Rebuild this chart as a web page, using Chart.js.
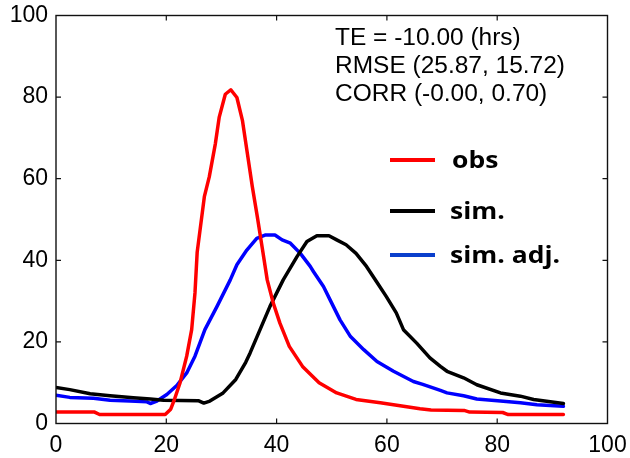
<!DOCTYPE html>
<html>
<head>
<meta charset="utf-8">
<script src="https://cdn.jsdelivr.net/npm/chart.js@4/dist/chart.umd.min.js"></script>
<style>
html,body{margin:0;padding:0;background:#fff;}
canvas{display:block;}
</style>
</head>
<body>
<canvas id="c" width="630" height="458"></canvas>
<script>
// ---- data ----
const obsX = [0,7,7.9,19.8,20.8,21.5,22.5,23.7,24.6,25.2,25.6,26.9,27.8,28.9,29.6,30.7,31.7,32.8,33.8,34.7,35.6,36.5,37.4,38.3,39.4,40.6,42.3,44.7,47.7,50.9,54.4,58.8,63.6,66,68,74,75,81,82,92];
const obsY = [2.8,2.8,2.2,2.2,3.5,6,10,16.5,23,32,42,55.6,60.5,68.6,75.1,80.7,81.8,79.9,74.3,66.2,58,50.7,43,35.2,29.5,24.6,18.9,14,10,7.5,5.9,5.1,4.1,3.6,3.3,3.2,2.8,2.7,2.2,2.2];

const simX = [0,2.5,6.2,9.8,14,17.1,19.5,25.8,26.8,27.9,30.3,32.6,34.4,35.2,37,38.8,41.2,43.7,45.5,47.3,49.5,50.9,52.6,54.4,56.3,58.1,59.9,61.7,63,65.4,67.8,69.7,70.9,73.9,76.3,80.6,84.2,86.6,90.3,92];
const simY = [8.8,8.3,7.3,6.8,6.3,6.0,5.7,5.6,5.0,5.5,7.5,10.8,15.0,17.3,23,28.7,35.2,40.9,44.6,46,46,45,43.8,41.7,38.5,34.8,31.1,27.1,23,19.7,16.1,14,12.8,11.2,9.5,7.5,6.7,5.9,5.2,4.9];

const adjX = [0,2.5,6.8,9.8,13.4,16.5,17.1,18.3,20.1,21.9,23.7,25.2,27,29.2,31.6,32.8,34.6,36.4,37.9,39.7,41,42.5,44.3,46.1,46.7,48.5,49.7,51.5,53.4,55.8,58.2,61.2,64.8,66.5,69.7,70.9,73.9,76.3,80.6,84.2,87.2,92];
const adjY = [6.9,6.4,6.2,5.7,5.5,5.3,4.9,5.5,7.1,9.3,12.4,16.5,23,28.7,35.2,38.9,42.5,45.4,46.2,46.2,45,44.2,41.7,38.5,37.2,33.6,30.3,25.4,21.3,18.1,15.2,12.8,10.3,9.6,8.1,7.5,6.8,6.0,5.5,5.1,4.6,4.2];

const seriesNames = ["obs", "sim.", "sim. adj."];
const statLines = ["TE = -10.00 (hrs)", "RMSE (25.87, 15.72)", "CORR (-0.00, 0.70)"];
const tickValues = [0, 20, 40, 60, 80, 100];

function pts(xs, ys){ return xs.map((x,i)=>({x:x, y:ys[i]})); }

const colors = ["#ff0000", "#000000", "#0000ff"];
const legendColors = ["#ff0000", "#000000", "#0a3fcc"];

const overlay = {
  id: 'overlay',
  afterDraw(chart){
    const ctx = chart.ctx;
    const a = chart.chartArea;
    const xs = chart.scales.x, ys = chart.scales.y;
    ctx.save();
    // frame
    ctx.strokeStyle = '#111';
    ctx.lineWidth = 1.4;
    ctx.strokeRect(a.left, a.top, a.right - a.left, a.bottom - a.top);
    // inward ticks
    ctx.lineWidth = 1.2;
    ctx.beginPath();
    tickValues.forEach(v=>{
      if (v===0 || v===100) return;
      const px = xs.getPixelForValue(v);
      ctx.moveTo(px, a.bottom); ctx.lineTo(px, a.bottom-5);
      ctx.moveTo(px, a.top); ctx.lineTo(px, a.top+5);
      const py = ys.getPixelForValue(v);
      ctx.moveTo(a.left, py); ctx.lineTo(a.left+5, py);
      ctx.moveTo(a.right, py); ctx.lineTo(a.right-5, py);
    });
    ctx.stroke();
    // stats text
    ctx.fillStyle = '#000';
    ctx.font = '23px "Liberation Sans", Arial, sans-serif';
    ctx.textBaseline = 'alphabetic';
    ctx.textAlign = 'left';
    const wR = ctx.measureText(statLines[1]).width;
    const tsx = 230 / wR;
    const baseX = 335;
    const bases = [45, 73, 101];
    statLines.forEach((t,i)=>{
      ctx.save();
      ctx.translate(baseX, bases[i]);
      ctx.scale(tsx, 1);
      ctx.fillText(t, 0, 0);
      ctx.restore();
    });
    // legend
    const lineY = [160, 211, 255];
    const textBase = [168, 219, 263];
    const textX = [452, 450, 450];
    ctx.font = 'bold 23px "Open Sans", sans-serif';
    const wAdj = ctx.measureText(seriesNames[2]).width;
    const sx = 110 / wAdj;
    seriesNames.forEach((n,i)=>{
      ctx.strokeStyle = legendColors[i];
      ctx.lineWidth = 4;
      ctx.beginPath();
      ctx.moveTo(390, lineY[i]); ctx.lineTo(435, lineY[i]);
      ctx.stroke();
      ctx.save();
      ctx.translate(textX[i], textBase[i]);
      ctx.scale(sx, 1);
      ctx.fillStyle = '#000';
      ctx.fillText(n, 0, 0);
      ctx.restore();
    });
    ctx.restore();
  }
};

new Chart(document.getElementById('c'), {
  type: 'line',
  data: {
    datasets: [
      {label: seriesNames[0], data: pts(obsX, obsY), borderColor: colors[0]},
      {label: seriesNames[1], data: pts(simX, simY), borderColor: colors[1]},
      {label: seriesNames[2], data: pts(adjX, adjY), borderColor: colors[2]}
    ]
  },
  options: {
    responsive: false,
    animation: false,
    devicePixelRatio: 1,
    layout: {padding: {top: 15.5, right: 22.5, left: 0, bottom: 0}},
    elements: {
      point: {radius: 0},
      line: {borderWidth: 3.5, tension: 0, borderJoinStyle: 'round', borderCapStyle: 'round'}
    },
    plugins: {legend: {display: false}, tooltip: {enabled: false}},
    scales: {
      x: {
        type: 'linear', min: 0, max: 100,
        afterFit(s){ s.height = 34.5; s.paddingLeft = 0; s.paddingRight = 0; },
        afterBuildTicks(s){ s.ticks = tickValues.map(v=>({value:v})); },
        grid: {display: false, drawTicks: false},
        border: {display: false},
        ticks: {color: '#000', padding: 8, maxRotation: 0,
          font: {family: '"Liberation Sans", Arial, sans-serif', size: 23}}
      },
      y: {
        type: 'linear', min: 0, max: 100,
        afterFit(s){ s.width = 56; s.paddingTop = 0; s.paddingBottom = 0; },
        afterBuildTicks(s){ s.ticks = tickValues.map(v=>({value:v})); },
        grid: {display: false, drawTicks: false},
        border: {display: false},
        ticks: {color: '#000', padding: 8,
          font: {family: '"Liberation Sans", Arial, sans-serif', size: 23}}
      }
    }
  },
  plugins: [overlay]
});
</script>
</body>
</html>
